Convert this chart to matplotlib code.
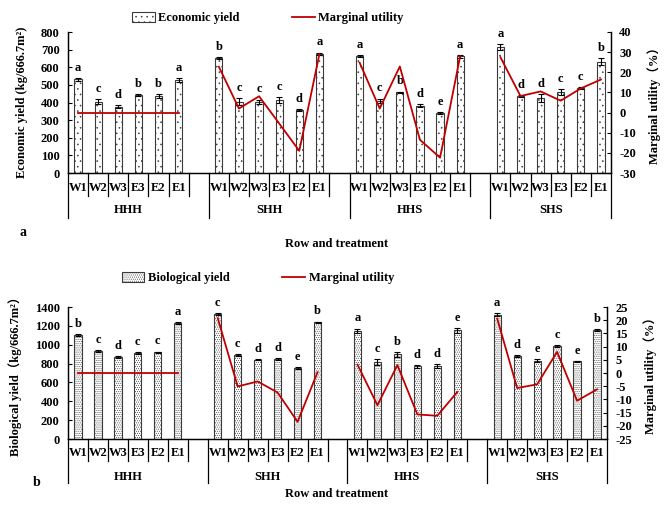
import matplotlib
matplotlib.use('Agg')
import matplotlib.pyplot as plt
from matplotlib.transforms import blended_transform_factory
from matplotlib.lines import Line2D
from matplotlib.patches import Patch

groups = ['HHH', 'SHH', 'HHS', 'SHS']
treatments = ['W1', 'W2', 'W3', 'E3', 'E2', 'E1']

# Panel a: economic yield (kg/666.7m2)
econ_yield = [[532, 404, 375, 441, 438, 526],
              [653, 405, 405, 415, 358, 675],
              [663, 410, 457, 382, 339, 661],
              [715, 437, 425, 459, 482, 631]]
econ_err = [[8, 15, 8, 6, 12, 12],
            [7, 18, 12, 15, 6, 8],
            [6, 12, 5, 7, 5, 6],
            [15, 5, 22, 15, 6, 20]]
econ_letters = [['a', 'c', 'd', 'b', 'b', 'a'],
                ['b', 'c', 'c', 'c', 'd', 'a'],
                ['a', 'c', 'b', 'd', 'e', 'a'],
                ['a', 'd', 'd', 'c', 'c', 'b']]
econ_mu = [[0, 0, 0, 0, 0, 0],
           [22.8, 2.0, 8.1, -5.4, -19.0, 29.0],
           [24.8, 2.0, 22.9, -13.5, -22.4, 28.0],
           [27.5, 8.2, 10.5, 5.9, 12.0, 16.4]]

# Panel b: biological yield (kg/666.7m2)
bio_yield = [[1100, 934, 871, 913, 920, 1231],
             [1322, 889, 843, 846, 751, 1238],
             [1146, 818, 898, 772, 772, 1153],
             [1319, 882, 832, 987, 822, 1157]]
bio_err = [[10, 8, 8, 8, 8, 8],
           [10, 8, 8, 8, 8, 8],
           [25, 30, 25, 15, 20, 25],
           [15, 8, 12, 8, 8, 8]]
bio_letters = [['b', 'c', 'd', 'c', 'c', 'a'],
               ['c', 'c', 'd', 'd', 'e', 'b'],
               ['a', 'c', 'b', 'd', 'd', 'e'],
               ['a', 'd', 'e', 'c', 'e', 'b']]
bio_mu = [[0, 0, 0, 0, 0, 0],
          [20.8, -5.1, -3.2, -7.4, -18.5, 0.3],
          [3.2, -12.2, 3.0, -15.7, -16.2, -7.2],
          [20.6, -5.7, -4.3, 8.0, -10.5, -6.2]]

W, H = 669, 508
plt.rcParams['font.family'] = ['Liberation Serif', 'Noto Sans CJK SC', 'DejaVu Sans']
plt.rcParams['font.weight'] = 'bold'
plt.rcParams['hatch.linewidth'] = 0.4
plt.rcParams['axes.unicode_minus'] = False
FS = 9
RED = '#C00000'

fig = plt.figure(figsize=(W / 100, H / 100), dpi=100)


def fy(py):
    return 1 - py / H


def fx(px):
    return px / W


def slot_x(g, j):
    return 7 * g + j + 0.5


def panel(rect, yields, errs, letters, mu, ylim, yticks, mulim, muticks,
          hatch, ylabel, mulabel, legend_label, legend_xy, axis_py,
          short_py, long_py, cat_py, grp_py, xlabel_py, tag, tag_xy):
    ax = fig.add_axes(rect)
    ax2 = ax.twinx()
    for g in range(4):
        xs = [slot_x(g, j) for j in range(6)]
        ax.bar(xs, yields[g], width=0.36, facecolor='white', edgecolor='#3a3a3a',
               linewidth=0.8, hatch=hatch, zorder=2)
        ax.errorbar(xs, yields[g], yerr=errs[g], fmt='none', ecolor='black',
                    elinewidth=0.8, capsize=2.5, capthick=0.8, zorder=3)
        for j in range(6):
            ax.annotate(letters[g][j], (xs[j], yields[g][j] + errs[g][j]),
                        xytext=(0, 3), textcoords='offset points', ha='center',
                        va='bottom', fontsize=FS, fontweight='bold')
        ax2.plot(xs, mu[g], color=RED, lw=1.3, zorder=4)
    ax.set_xlim(0, 27)
    ax.set_ylim(*ylim)
    ax.set_yticks(yticks)
    ax2.set_ylim(*mulim)
    ax2.set_yticks(muticks)
    for a in (ax, ax2):
        a.spines['top'].set_visible(False)
        a.tick_params(axis='y', direction='in', length=3, width=0.8,
                      labelsize=FS, pad=6)
        a.set_xticks([])
        for s in a.spines.values():
            s.set_linewidth(0.9)
    ax.set_ylabel(ylabel, fontsize=FS, fontweight='bold', labelpad=9)
    ax2.set_ylabel(mulabel, fontsize=FS, fontweight='bold', labelpad=8)
    for t in ax.get_yticklabels() + ax2.get_yticklabels():
        t.set_fontweight('bold')

    tr = blended_transform_factory(ax.transData, fig.transFigure)
    for g in range(4):
        x0 = 7 * g
        ax.add_line(Line2D([x0, x0], [fy(axis_py), fy(long_py)], transform=tr,
                           color='black', lw=0.9, clip_on=False))
        for j in range(1, 7):
            if g == 3 and j == 6:
                continue
            ax.add_line(Line2D([x0 + j, x0 + j], [fy(axis_py), fy(short_py)],
                               transform=tr, color='black', lw=0.9, clip_on=False))
        for j in range(6):
            ax.text(slot_x(g, j), fy(cat_py), treatments[j], transform=tr,
                    ha='center', va='center', fontsize=FS, fontweight='bold')
        ax.text(x0 + 3.0, fy(grp_py), groups[g], transform=tr, ha='center',
                va='center', fontsize=FS, fontweight='bold')
    ax.add_line(Line2D([27, 27], [fy(axis_py), fy(long_py)], transform=tr,
                       color='black', lw=0.9, clip_on=False))
    fig.text(fx(337), fy(xlabel_py), 'Row and treatment', ha='center', va='center',
             fontsize=FS, fontweight='bold')
    fig.text(fx(tag_xy[0]), fy(tag_xy[1]), tag, ha='center', va='center',
             fontsize=FS + 1, fontweight='bold')

    handles = [Patch(facecolor='white', edgecolor='#3a3a3a', hatch=hatch, lw=0.8),
               Line2D([], [], color=RED, lw=1.3)]
    fig.legend(handles, [legend_label, 'Marginal utility'], loc='center',
               bbox_to_anchor=(fx(legend_xy[0]), fy(legend_xy[1])), ncol=2,
               frameon=False, handlelength=1.8, handleheight=0.8,
               handletextpad=0.3, columnspacing=4.2,
               prop={'weight': 'bold', 'size': FS})
    return ax, ax2


panel([fx(68), fy(173), (611 - 68) / W, (173 - 32) / H],
      econ_yield, econ_err, econ_letters, econ_mu,
      (0, 800), range(0, 801, 100), (-30, 40), range(-30, 41, 10),
      '...', 'Economic yield (kg/666.7m²)', 'Marginal utility（%）',
      'Economic yield', (268, 18), 173, 196, 218, 188, 210, 244, 'a', (23, 232))

panel([fx(68), fy(439), (607 - 68) / W, (439 - 307) / H],
      bio_yield, bio_err, bio_letters, bio_mu,
      (0, 1400), range(0, 1401, 200), (-25, 25), range(-25, 26, 5),
      '........', 'Biological yield（kg/666.7m²）', 'Marginal utility（%）',
      'Biological yield', (258, 278), 439, 461, 483, 453, 477, 494, 'b', (37, 482))

fig.savefig('out.png', dpi=100)
